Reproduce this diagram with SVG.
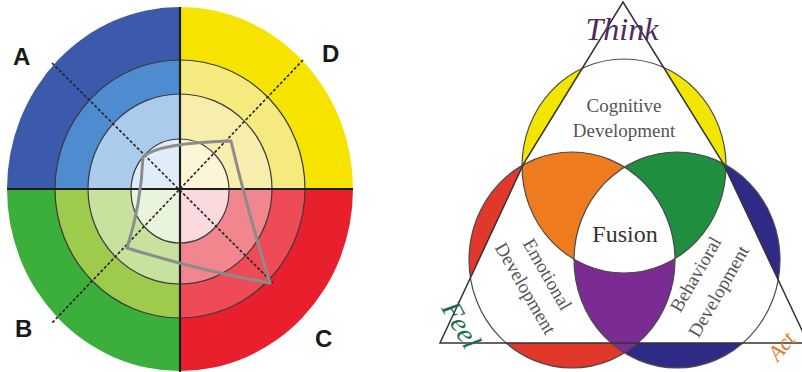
<svg xmlns="http://www.w3.org/2000/svg" width="802" height="372" viewBox="0 0 802 372">
<style>
.lbl{font-family:"Liberation Sans",Arial,sans-serif;font-weight:bold;font-size:24px;fill:#1a1a1a}
.ring{fill:none;stroke:#3a3a3a;stroke-width:1.2}
.diag{stroke:#222;stroke-width:1.6;stroke-dasharray:3 2;fill:none}
.cross{stroke:#1e1e1e;stroke-width:2.2}
.body{font-family:"Liberation Serif","DejaVu Serif",serif;font-size:19px;fill:#555;text-anchor:middle}
.outl{fill:none;stroke:#4a4a4a;stroke-width:1.2}
</style>
<defs>
<clipPath id="qTL"><rect x="0" y="0" width="180" height="189"/></clipPath>
<clipPath id="qTR"><rect x="180" y="0" width="200" height="189"/></clipPath>
<clipPath id="qBL"><rect x="0" y="189" width="180" height="200"/></clipPath>
<clipPath id="qBR"><rect x="180" y="189" width="200" height="200"/></clipPath>
<clipPath id="cTop"><ellipse cx="624" cy="166" rx="102" ry="107"/></clipPath>
<clipPath id="cLeft"><ellipse cx="572" cy="260" rx="103" ry="108"/></clipPath>
<clipPath id="cRight"><ellipse cx="677" cy="260" rx="103" ry="108"/></clipPath>
</defs>
<rect width="802" height="372" fill="#ffffff"/>

<!-- Left wheel -->
<g id="wheel">
<g clip-path="url(#qTL)">
<ellipse cx="180" cy="189" rx="173" ry="182" fill="#3b5aab"/>
<ellipse cx="180" cy="189" rx="125" ry="129" fill="#4f8bcf"/>
<ellipse cx="180" cy="189" rx="92" ry="95" fill="#aacbec"/>
<ellipse cx="180" cy="191" rx="49" ry="52" fill="#e0ecf7"/>
</g>
<g clip-path="url(#qTR)">
<ellipse cx="180" cy="189" rx="173" ry="182" fill="#f6e400"/>
<ellipse cx="180" cy="189" rx="125" ry="129" fill="#f4ea7e"/>
<ellipse cx="180" cy="189" rx="92" ry="95" fill="#f7eeae"/>
<ellipse cx="180" cy="191" rx="49" ry="52" fill="#fcf5d6"/>
</g>
<g clip-path="url(#qBL)">
<ellipse cx="180" cy="189" rx="173" ry="182" fill="#3bae3b"/>
<ellipse cx="180" cy="189" rx="125" ry="129" fill="#9ecb4c"/>
<ellipse cx="180" cy="189" rx="92" ry="95" fill="#c7e19e"/>
<ellipse cx="180" cy="191" rx="49" ry="52" fill="#e8f4dc"/>
</g>
<g clip-path="url(#qBR)">
<ellipse cx="180" cy="189" rx="173" ry="182" fill="#e8202e"/>
<ellipse cx="180" cy="189" rx="125" ry="129" fill="#ee4b57"/>
<ellipse cx="180" cy="189" rx="92" ry="95" fill="#f2868f"/>
<ellipse cx="180" cy="191" rx="49" ry="52" fill="#fbdade"/>
</g>
<ellipse class="ring" cx="180" cy="189" rx="125" ry="129"/>
<ellipse class="ring" cx="180" cy="189" rx="92" ry="95"/>
<ellipse class="ring" cx="180" cy="191" rx="49" ry="52"/>
<line class="cross" x1="180" y1="7" x2="180" y2="372"/>
<line class="cross" x1="7" y1="189" x2="353" y2="189"/>
<line class="diag" x1="52" y1="63" x2="273" y2="283"/>
<line class="diag" x1="303" y1="60" x2="52" y2="323"/>
<path d="M143,157 Q158,143 231,141 Q246,205 270,283 Q205,272 127,248 Q141,205 143,157 Z" fill="none" stroke="#8c8c8c" stroke-width="3" stroke-linejoin="round"/>
</g>
<g id="labelA"><text class="lbl" x="13" y="65">A</text></g>
<g id="labelD"><text class="lbl" x="322" y="62">D</text></g>
<g id="labelB"><text class="lbl" x="15" y="337">B</text></g>
<g id="labelC"><text class="lbl" x="315" y="347">C</text></g>

<!-- Right Venn -->
<g id="venn">
<ellipse cx="624" cy="166" rx="102" ry="107" fill="#f2e500"/>
<ellipse cx="572" cy="260" rx="103" ry="108" fill="#e0382a"/>
<ellipse cx="677" cy="260" rx="103" ry="108" fill="#2f2a85"/>
<polygon points="623,2 524,163 440,343 808,343 723,163" fill="#ffffff"/>
<g clip-path="url(#cTop)"><ellipse cx="572" cy="260" rx="103" ry="108" fill="#ef7b1f"/></g>
<g clip-path="url(#cTop)"><ellipse cx="677" cy="260" rx="103" ry="108" fill="#1f8e3f"/></g>
<g clip-path="url(#cLeft)"><ellipse cx="677" cy="260" rx="103" ry="108" fill="#7a2c93"/></g>
<g clip-path="url(#cRight)"><g clip-path="url(#cLeft)"><ellipse cx="624" cy="166" rx="102" ry="107" fill="#ffffff"/></g></g>
<ellipse class="outl" cx="624" cy="166" rx="102" ry="107"/>
<ellipse class="outl" cx="572" cy="260" rx="103" ry="108"/>
<ellipse class="outl" cx="677" cy="260" rx="103" ry="108"/>
<polygon points="623,2 524,163 440,343 808,343 723,163" fill="none" stroke="#333" stroke-width="1.5"/>
</g>
<g id="think"><text x="622" y="40" font-family="Liberation Serif,serif" font-style="italic" font-size="32" fill="#4b2e5e" text-anchor="middle">Think</text></g>
<g id="cognitive">
<text class="body" x="624" y="112">Cognitive</text>
<text class="body" x="624" y="137">Development</text>
</g>
<g id="fusion"><text x="625" y="242" font-family="Liberation Serif,serif" font-size="24" fill="#333" text-anchor="middle">Fusion</text></g>
<g id="emotional">
<text class="body" transform="translate(548,274) rotate(60)" y="7">Emotional</text>
<text class="body" transform="translate(526,288) rotate(60)" y="7">Development</text>
</g>
<g id="behavioral">
<text class="body" transform="translate(695,274) rotate(-60)" y="7">Behavioral</text>
<text class="body" transform="translate(718,291) rotate(-60)" y="7">Development</text>
</g>
<g id="feel"><text transform="translate(461,325) rotate(60)" y="9" font-family="Liberation Serif,serif" font-style="italic" font-size="28" fill="#1f6a50" text-anchor="middle">Feel</text></g>
<g id="act"><text transform="translate(781,346) rotate(-50)" y="8" font-family="Liberation Serif,serif" font-style="italic" font-size="22" fill="#e07a20" text-anchor="middle">Act</text></g>
</svg>
